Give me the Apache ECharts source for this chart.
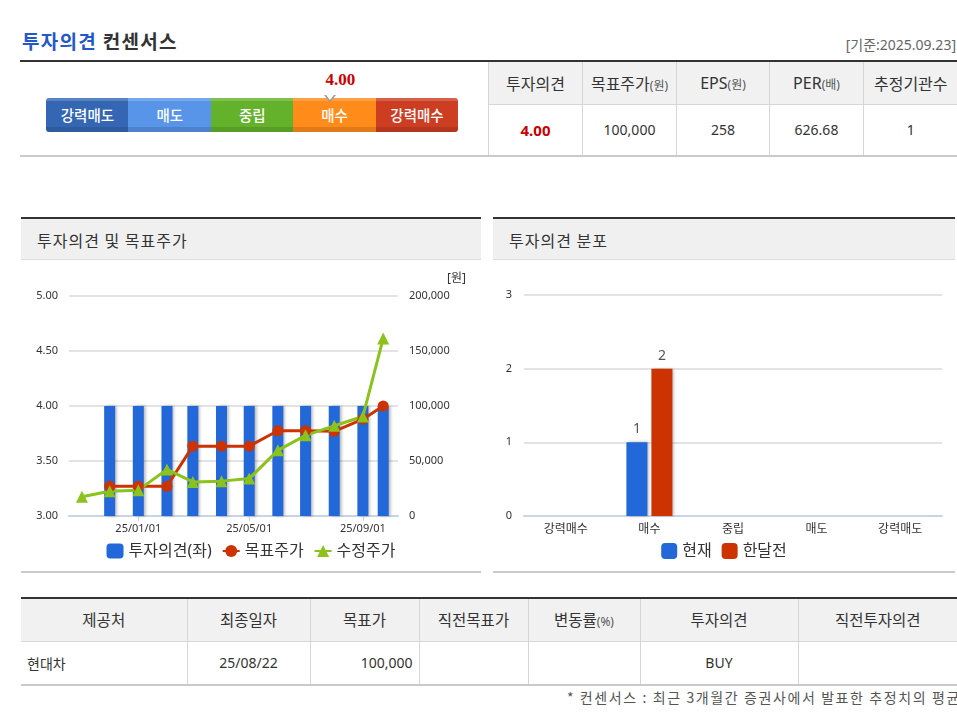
<!DOCTYPE html>
<html>
<head>
<meta charset="utf-8">
<script src="https://cdn.jsdelivr.net/npm/echarts@6/dist/echarts.min.js"></script>
<style>
  html,body{margin:0;padding:0;background:#fff;}
  body{width:957px;height:713px;overflow:hidden;position:relative;font-family:"Noto Sans","Noto Sans CJK KR",sans-serif;color:#333;}
  .abs{position:absolute;}
  .line{position:absolute;}
  table{border-collapse:collapse;table-layout:fixed;position:absolute;}
  td{padding:0;font-size:15px;color:#333;white-space:nowrap;overflow:hidden;}
  .hd td{background:#f1f1f1;text-align:center;}
  .sm{font-size:12px;color:#555;}
  .seg{position:absolute;top:98px;height:34px;color:#fff;font-size:14.5px;font-weight:500;text-align:center;line-height:34px;font-family:"Noto Sans CJK KR",sans-serif;}
  .panelHd{position:absolute;height:41px;background:#f0f0f0;border-bottom:1px solid #dcdcdc;font-size:16px;letter-spacing:1px;line-height:42px;padding-left:16px;box-sizing:border-box;font-family:"Noto Sans CJK KR",sans-serif;}
</style>
</head>
<body>
<div id="title" class="abs" style="left:22px;top:27px;font-size:19px;letter-spacing:1.3px;font-weight:bold;font-family:'Noto Sans CJK KR',sans-serif;"><span style="color:#2457c8">투자의견</span> <span style="color:#333">컨센서스</span></div>
<div id="basis" class="abs" style="right:1px;top:34px;font-size:14px;color:#666;"></div>
<div class="line" style="left:20px;top:60px;width:937px;height:2px;background:#333;"></div>
<div class="line" style="left:20px;top:155px;width:937px;height:2px;background:#cacaca;"></div>

<div id="gauge"></div>

<table id="topTable" style="left:488px;top:62px;width:469px;">
  <colgroup><col style="width:94px"><col style="width:94px"><col style="width:93px"><col style="width:94px"><col style="width:94px"></colgroup>
  <tr class="hd" id="topHead" style="height:42px;"></tr>
  <tr id="topVals" style="height:51px;"></tr>
</table>

<div class="line" style="left:21px;top:217px;width:460px;height:2px;background:#333;"></div>
<div class="panelHd" style="left:21px;top:219px;width:460px;">투자의견 및 목표주가</div>
<div class="line" style="left:21px;top:571px;width:460px;height:2px;background:#cacaca;"></div>
<div id="c1" class="abs" style="left:21px;top:262px;width:460px;height:308px;"></div>

<div class="line" style="left:493px;top:217px;width:462px;height:2px;background:#333;"></div>
<div class="panelHd" style="left:493px;top:219px;width:462px;">투자의견 분포</div>
<div class="line" style="left:493px;top:571px;width:462px;height:2px;background:#cacaca;"></div>
<div id="c2" class="abs" style="left:493px;top:262px;width:462px;height:308px;"></div>

<div class="line" style="left:21px;top:597px;width:936px;height:2px;background:#333;"></div>
<table id="botTable" style="left:21px;top:599px;width:936px;">
  <colgroup><col style="width:166px"><col style="width:123px"><col style="width:109px"><col style="width:109px"><col style="width:112px"><col style="width:158px"><col style="width:159px"></colgroup>
  <tr class="hd" id="botHead" style="height:42px;"></tr>
  <tr id="botVals" style="height:43px;"></tr>
</table>
<div class="line" style="left:21px;top:684px;width:936px;height:2px;background:#cacaca;"></div>
<div id="foot" class="abs" style="left:567px;top:687px;font-size:14px;letter-spacing:1.6px;color:#555;white-space:nowrap;font-family:'Noto Sans CJK KR',sans-serif;"></div>

<script>
// ---------- data ----------
const basisDate = '2025.09.23';
const gaugeLabels = ['강력매도','매도','중립','매수','강력매수'];
const gaugeColors = ['#3466b4','#5894e8','#64b22b','#ff8c1a','#cc3d22'];
const opinionScore = 4.00;

const topHeaders = ['투자의견','목표주가|(원)','EPS|(원)','PER|(배)','추정기관수'];
const topValues = ['4.00','100,000','258','626.68','1'];

const dates = ['2024-11-01','2024-12-01','2025-01-01','2025-02-01','2025-03-01','2025-04-01','2025-05-01','2025-06-01','2025-07-01','2025-08-01','2025-09-01','2025-09-23'];
const opinionSeries = [null,4,4,4,4,4,4,4,4,4,4,4];
const targetPrice = [null,27000,27000,27000,63500,63500,63500,77500,77500,77000,88000,100000];
const adjustedPrice = [17500,22500,23500,42300,31000,31700,34000,59700,73300,82000,90500,161400];
const xTickDates = ['2025-01-01','2025-05-01','2025-09-01'];
const xRange = ['2024-10-18','2025-10-09'];
const leftAxis = {min:3, max:5, interval:0.5};
const rightAxis = {min:0, max:200000, interval:50000};

const distCategories = ['강력매수','매수','중립','매도','강력매도'];
const distNow = [0,1,0,0,0];
const distPrev = [0,2,0,0,0];
const distAxis = {min:0, max:3, interval:1};

const botHeaders = ['제공처','최종일자','목표가','직전목표가','변동률|(%)','투자의견','직전투자의견'];
const botValues = ['현대차','25/08/22','100,000','','','BUY',''];
const botAlign = ['left','center','right','center','center','center','center'];
const footNote = '* 컨센서스 : 최근 3개월간 증권사에서 발표한 추정치의 평균';

// ---------- html parts ----------
document.getElementById('basis').textContent = '[기준:' + basisDate + ']';
document.getElementById('foot').textContent = footNote;

const g = document.getElementById('gauge');
const gx0 = 46, segW = 82.4;
gaugeLabels.forEach((t,i)=>{
  const d = document.createElement('div');
  d.className='seg';
  d.style.left = (gx0 + i*segW) + 'px';
  d.style.width = (segW+0.5) + 'px';
  const c = gaugeColors[i];
  d.style.background = 'linear-gradient(to bottom, rgba(255,255,255,0.18) 0px, rgba(255,255,255,0.18) 3px, '+c+' 3px, '+c+' 29px, rgba(0,0,0,0.12) 29px)';
  d.style.backgroundColor = c;
  if(i===0) d.style.borderRadius='3px 0 0 3px';
  if(i===gaugeLabels.length-1) d.style.borderRadius='0 3px 3px 0';
  d.textContent = t;
  g.appendChild(d);
});
const mx = gx0 + (opinionScore - 0.55) * segW;
const mk = document.createElement('div');
mk.className='abs';
mk.style.cssText = 'left:'+(mx-6)+'px;top:95px;width:0;height:0;border-left:6px solid transparent;border-right:6px solid transparent;border-top:7px solid #999;';
g.appendChild(mk);
const mk2 = document.createElement('div');
mk2.className='abs';
mk2.style.cssText = 'left:'+(mx-4)+'px;top:95px;width:0;height:0;border-left:4px solid transparent;border-right:4px solid transparent;border-top:5px solid #fff;';
g.appendChild(mk2);
const sv = document.createElement('div');
sv.className='abs';
sv.style.cssText = 'left:'+(mx-30)+'px;width:80px;text-align:center;top:70px;font-size:17px;font-weight:bold;color:#cc0000;font-family:"Liberation Serif",serif;';
sv.textContent = opinionScore.toFixed(2);
g.appendChild(sv);

function headCell(t){
  const p = t.split('|');
  return p.length>1 ? p[0]+'<span class="sm">'+p[1]+'</span>' : t;
}
const th = document.getElementById('topHead'), tv = document.getElementById('topVals');
topHeaders.forEach(h=>{const td=document.createElement('td');td.innerHTML=headCell(h);td.style.fontSize='16px';td.style.borderLeft='1px solid #d6d6d6';td.style.borderBottom='1px solid #d6d6d6';th.appendChild(td);});
topValues.forEach((v,i)=>{const td=document.createElement('td');td.textContent=v;td.style.textAlign='center';td.style.borderLeft='1px solid #d6d6d6';td.style.fontSize='14px';if(i===0){td.style.color='#cc0000';td.style.fontWeight='bold';td.style.fontSize='15px';}tv.appendChild(td);});

const bh = document.getElementById('botHead'), bv = document.getElementById('botVals');
botHeaders.forEach((h,i)=>{const td=document.createElement('td');td.innerHTML=headCell(h);td.style.fontSize='15.5px';if(i>0)td.style.borderLeft='1px solid #d6d6d6';td.style.borderBottom='1px solid #d6d6d6';bh.appendChild(td);});
botValues.forEach((v,i)=>{const td=document.createElement('td');td.textContent=v;td.style.textAlign=botAlign[i];td.style.fontSize='14px';if(i>0)td.style.borderLeft='1px solid #d6d6d6';if(botAlign[i]==='left')td.style.paddingLeft='6px';if(botAlign[i]==='right')td.style.paddingRight='6px';bv.appendChild(td);});

// ---------- charts ----------
const FONT = '"Noto Sans","Noto Sans CJK KR",sans-serif';
const ts = s => Date.parse(s + 'T00:00:00Z');
const fmtDate = v => { const d = new Date(v); const p = n => String(n).padStart(2,'0'); return p(d.getUTCFullYear()%100)+'/'+p(d.getUTCMonth()+1)+'/'+p(d.getUTCDate()); };
const comma = v => String(v).replace(/\B(?=(\d{3})+(?!\d))/g, ',');
const axisBlue = '#c8d5e5';

const c1 = echarts.init(document.getElementById('c1'));
c1.setOption({
  animation:false,
  textStyle:{fontFamily:FONT},
  grid:{left:48,right:83,top:34,bottom:54},
  legend:{
    top:276, left:'center', itemWidth:17, itemHeight:15, itemGap:10,
    textStyle:{fontSize:16,color:'#333',fontFamily:FONT},
    data:[{name:'투자의견(좌)',icon:'roundRect'},{name:'목표주가'},{name:'수정주가'}]
  },
  graphic:[{type:'text',left:426,top:11,style:{text:'[원]',fontSize:12,fill:'#333',fontFamily:FONT}}],
  xAxis:{
    type:'value', min:ts(xRange[0]), max:ts(xRange[1]),
    splitLine:{show:false},
    axisLine:{show:true,lineStyle:{color:axisBlue,width:2}},
    axisTick:{show:true,customValues:xTickDates.map(ts),length:5,lineStyle:{color:axisBlue}},
    axisLabel:{customValues:xTickDates.map(ts),formatter:fmtDate,fontSize:11,color:'#333',margin:7}
  },
  yAxis:[
    {type:'value',min:leftAxis.min,max:leftAxis.max,interval:leftAxis.interval,
     axisLine:{show:false},axisTick:{show:false},
     splitLine:{lineStyle:{color:'#e3e3e3',width:2}},
     axisLabel:{formatter:v=>v.toFixed(2),fontSize:11,color:'#333',margin:11}},
    {type:'value',min:rightAxis.min,max:rightAxis.max,interval:rightAxis.interval,
     axisLine:{show:false},axisTick:{show:false},splitLine:{show:false},
     axisLabel:{formatter:v=>comma(v),fontSize:11,color:'#333',margin:11}}
  ],
  series:[
    {name:'투자의견(좌)',type:'bar',yAxisIndex:0,barWidth:11,
     itemStyle:{color:'#2268d8',shadowColor:'rgba(0,0,0,0.3)',shadowBlur:3,shadowOffsetX:2},
     data:dates.map((d,i)=>[ts(d),opinionSeries[i]]).filter(p=>p[1]!=null)},
    {name:'목표주가',type:'line',yAxisIndex:1,symbol:'circle',symbolSize:11,
     lineStyle:{color:'#cc3300',width:3},itemStyle:{color:'#cc3300'},
     data:dates.map((d,i)=>[ts(d),targetPrice[i]]).filter(p=>p[1]!=null)},
    {name:'수정주가',type:'line',yAxisIndex:1,symbol:'triangle',symbolSize:12,
     lineStyle:{color:'#8cc21c',width:3},itemStyle:{color:'#8cc21c'},
     data:dates.map((d,i)=>[ts(d),adjustedPrice[i]])}
  ]
});

const c2 = echarts.init(document.getElementById('c2'));
const barLabel = {show:true,position:'top',fontSize:14,color:'#555',distance:6,fontFamily:FONT,formatter:p=>p.value?String(p.value):''};
c2.setOption({
  animation:false,
  textStyle:{fontFamily:FONT},
  grid:{left:31,right:13,top:33,bottom:54},
  legend:{top:276,left:'center',itemWidth:16,itemHeight:16,itemGap:10,icon:'roundRect',
    textStyle:{fontSize:16,color:'#333',fontFamily:FONT}},
  xAxis:{type:'category',data:distCategories,
    axisLine:{lineStyle:{color:axisBlue,width:2}},
    axisTick:{length:5,lineStyle:{color:axisBlue,width:2}},
    axisLabel:{fontSize:12,color:'#333',margin:8}},
  yAxis:{type:'value',min:distAxis.min,max:distAxis.max,interval:distAxis.interval,
    axisLine:{show:false},axisTick:{show:false},
    splitLine:{lineStyle:{color:'#e3e3e3',width:2}},
    axisLabel:{fontSize:11,color:'#333',margin:12}},
  series:[
    {name:'현재',type:'bar',barWidth:21,barGap:'19%',data:distNow,label:barLabel,
     itemStyle:{color:'#2268d8',shadowColor:'rgba(0,0,0,0.3)',shadowBlur:3,shadowOffsetX:2}},
    {name:'한달전',type:'bar',barWidth:21,data:distPrev,label:barLabel,
     itemStyle:{color:'#cc3300',shadowColor:'rgba(0,0,0,0.3)',shadowBlur:3,shadowOffsetX:2}}
  ]
});
</script>
</body>
</html>
